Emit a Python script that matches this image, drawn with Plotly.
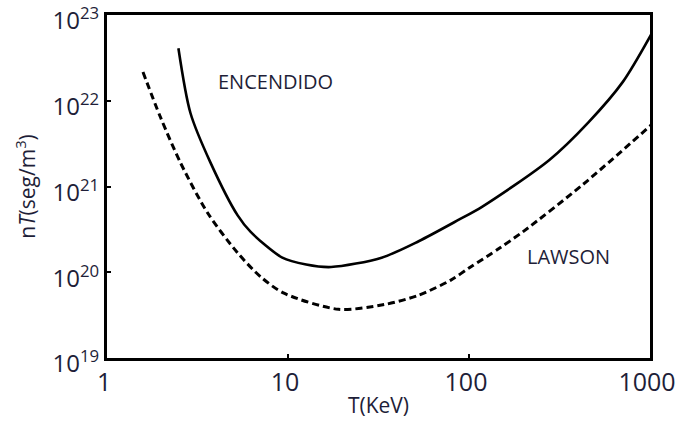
import plotly.graph_objects as go

# Data
encendido_T = [2.48, 2.89, 3.73, 5.27, 6.22, 9.3, 12.6, 17.3, 32.9, 52.7, 87.9, 118, 278, 457, 708, 1014]
encendido_nT = [4.1e22, 7.2e21, 1.9e21, 4.6e20, 2.95e20, 1.48e20, 1.23e20, 1.15e20, 1.48e20, 2.3e20,
                4.1e20, 5.8e20, 2.04e21, 5.6e21, 1.66e22, 5.9e22]

lawson_T = [1.58, 1.97, 2.55, 3.6, 5.27, 7.08, 9.5, 19, 34.1, 52.7, 79.4, 100, 147, 200, 425, 1014]
lawson_nT = [2.16e22, 6.5e21, 1.88e21, 4.9e20, 1.68e20, 8.8e19, 5.7e19, 3.7e19, 4.2e19,
             5.4e19, 8.1e19, 1.12e20, 1.9e20, 3.0e20, 1.05e21, 5.2e21]

x_tickvals = [1, 10, 100, 1000]
x_ticktext = ["1", "10", "100", "1000"]
y_tickvals = [1e19, 1e20, 1e21, 1e22, 1e23]
y_ticktext = ["10<sup>19</sup>", "10<sup>20</sup>", "10<sup>21</sup>", "10<sup>22</sup>", "10<sup>23</sup>"]

label_color = "#1e1e38"

fig = go.Figure()
fig.add_trace(go.Scatter(x=encendido_T, y=encendido_nT, mode="lines",
                         line=dict(color="black", width=2.6, shape="spline", smoothing=0.8),
                         showlegend=False, hoverinfo="skip"))
fig.add_trace(go.Scatter(x=lawson_T, y=lawson_nT, mode="lines",
                         line=dict(color="black", width=3, dash="7px,4px", shape="spline", smoothing=0.8),
                         showlegend=False, hoverinfo="skip"))

fig.add_annotation(x=0.933, y=22.23, xref="x", yref="y", text="ENCENDIDO", showarrow=False,
                   font=dict(family="Open Sans", size=20, color=label_color))
fig.add_annotation(x=2.55, y=20.18, xref="x", yref="y", text="LAWSON", showarrow=False,
                   font=dict(family="Open Sans", size=20, color=label_color))

fig.update_layout(
    width=678, height=427,
    margin=dict(l=107, r=28, t=15, b=69, autoexpand=False),
    paper_bgcolor="white", plot_bgcolor="white",
    font=dict(family="Open Sans", color=label_color),
)
fig.update_xaxes(type="log", range=[-0.0001, 3.0001], tickvals=x_tickvals, ticktext=x_ticktext,
                 showline=True, mirror=True, linecolor="black", linewidth=3,
                 ticks="inside", ticklen=4, tickwidth=2, tickcolor="black",
                 showgrid=False, zeroline=False, ticklabeloverflow="allow", automargin=False,
                 ticklabelshift=-3,
                 tickfont=dict(family="Open Sans", size=25, color=label_color),
                 title=dict(text="T(KeV)", font=dict(family="Open Sans", size=21, color=label_color), standoff=2))
fig.update_yaxes(type="log", range=[18.9999, 23.0001], tickvals=y_tickvals, ticktext=y_ticktext,
                 showline=True, mirror=True, linecolor="black", linewidth=3,
                 ticks="inside", ticklen=4, tickwidth=2, tickcolor="black",
                 showgrid=False, zeroline=False, ticklabeloverflow="allow", automargin=False,
                 ticklabelshift=6,
                 tickfont=dict(family="Open Sans", size=24, color=label_color),
                 title=dict(text="n<i>T</i>(seg/m<sup>3</sup>)", font=dict(family="Open Sans", size=21, color=label_color), standoff=12))

fig.write_html("out.html")
